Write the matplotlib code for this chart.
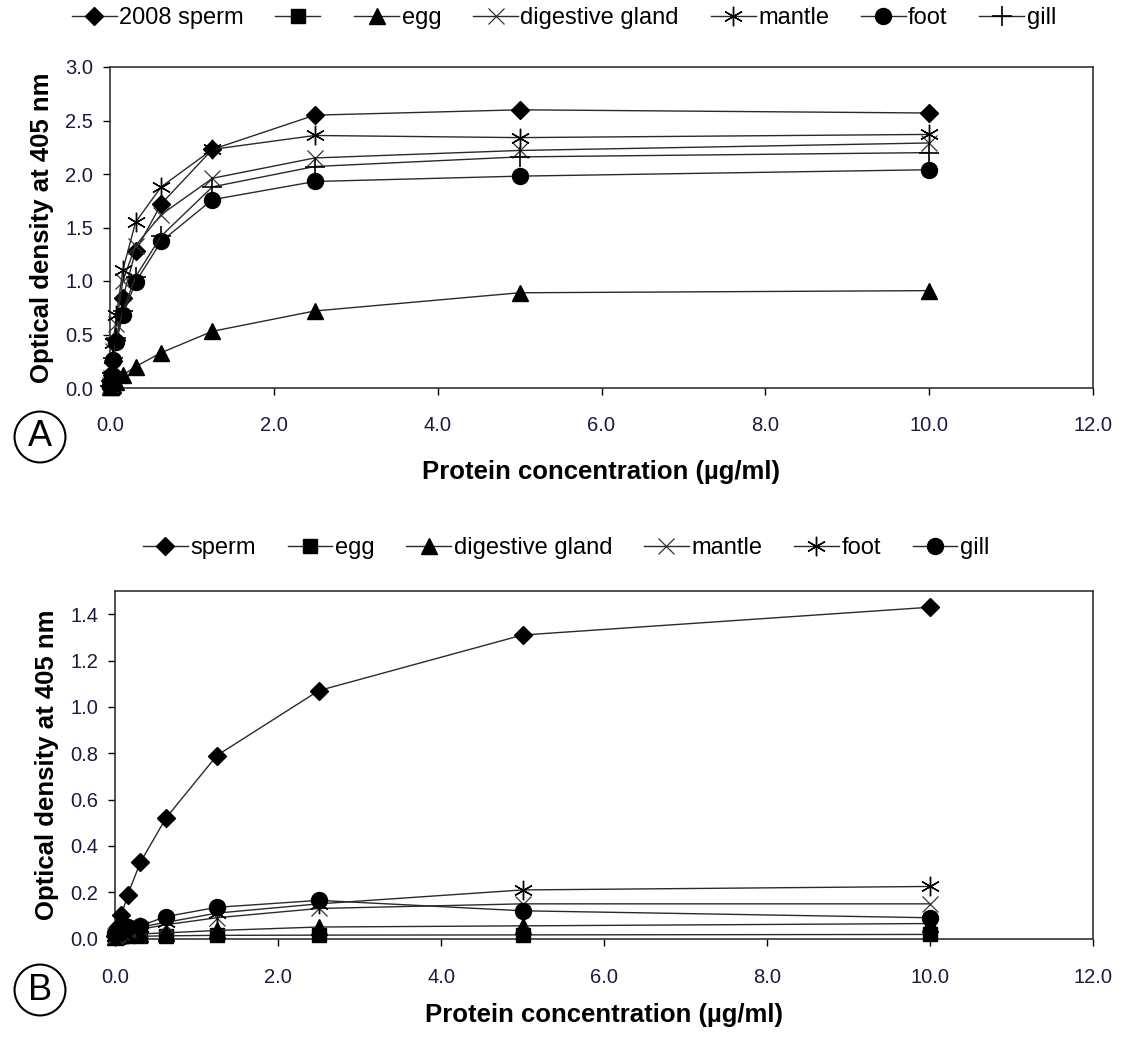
import matplotlib
matplotlib.use("Agg")
import matplotlib.pyplot as plt
from matplotlib.lines import Line2D

plt.rcParams['font.family'] = ['Liberation Sans', 'DejaVu Sans']

# ---------------- data ----------------
conc = [0, 0.0098, 0.0195, 0.039, 0.078, 0.156, 0.3125, 0.625, 1.25, 2.5, 5, 10]

# Panel A
a_labels = ["2008 sperm", "", "egg", "digestive gland", "mantle", "foot", "gill"]
a_sperm = [0.02, 0.06, 0.12, 0.25, 0.45, 0.84, 1.28, 1.72, 2.23, 2.55, 2.60, 2.57]
a_blank = []
a_egg = [0.01, 0.01, 0.02, 0.03, 0.06, 0.12, 0.20, 0.33, 0.53, 0.72, 0.89, 0.91]
a_digestive = [0.03, 0.09, 0.18, 0.35, 0.60, 1.00, 1.33, 1.62, 1.96, 2.15, 2.22, 2.29]
a_mantle = [0.04, 0.10, 0.20, 0.42, 0.68, 1.10, 1.55, 1.88, 2.23, 2.36, 2.34, 2.37]
a_foot = [0.02, 0.06, 0.12, 0.26, 0.43, 0.68, 0.99, 1.37, 1.76, 1.93, 1.98, 2.04]
a_gill = [0.02, 0.07, 0.14, 0.28, 0.47, 0.72, 1.04, 1.42, 1.88, 2.07, 2.16, 2.20]

# Panel B
b_labels = ["sperm", "egg", "digestive gland", "mantle", "foot", "gill"]
b_sperm = [0.01, 0.02, 0.03, 0.05, 0.10, 0.19, 0.33, 0.52, 0.79, 1.07, 1.31, 1.43]
b_egg = [0.005, 0.005, 0.005, 0.01, 0.01, 0.01, 0.01, 0.012, 0.014, 0.015, 0.016, 0.018]
b_digestive = [0.005, 0.01, 0.01, 0.015, 0.015, 0.02, 0.02, 0.025, 0.035, 0.05, 0.055, 0.065]
b_mantle = [0.01, 0.015, 0.02, 0.025, 0.03, 0.035, 0.04, 0.06, 0.09, 0.13, 0.15, 0.15]
b_foot = [0.01, 0.02, 0.025, 0.03, 0.04, 0.045, 0.05, 0.07, 0.11, 0.15, 0.21, 0.225]
b_gill = [0.02, 0.025, 0.03, 0.04, 0.05, 0.05, 0.055, 0.095, 0.135, 0.165, 0.12, 0.09]

x_ticks = [0, 2, 4, 6, 8, 10, 12]
a_yticks = [0.0, 0.5, 1.0, 1.5, 2.0, 2.5, 3.0]
b_yticks = [0.0, 0.2, 0.4, 0.6, 0.8, 1.0, 1.2, 1.4]

# ---------------- style ----------------
W, H = 1121, 1039
fig = plt.figure(figsize=(W / 100, H / 100), dpi=100)

asterisk = (6, 2, 0)
LC = '#2a2a2a'

def style(marker):
    base = dict(color=LC, lw=1.0, markerfacecolor='black', markeredgecolor='black')
    if marker == 'D':
        base.update(marker='D', ms=9)
    elif marker == 's':
        base.update(marker='s', ms=10)
    elif marker == '^':
        base.update(marker='^', ms=11)
    elif marker == 'x':
        base.update(marker='x', ms=11, markeredgewidth=0.9, markeredgecolor='#333333')
    elif marker == '*':
        base.update(marker=asterisk, ms=14, markeredgewidth=1.0)
    elif marker == 'o':
        base.update(marker='o', ms=11.5)
    elif marker == '+':
        base.update(marker='+', ms=14, markeredgewidth=1.2)
    return base

def make_axes(rect, ylim, yticks):
    ax = fig.add_axes(rect)
    ax.set_xlim(0, 12)
    ax.set_ylim(*ylim)
    ax.set_xticks(x_ticks)
    ax.set_xticklabels([f"{v:.1f}" for v in x_ticks])
    ax.set_yticks(yticks)
    ax.set_yticklabels([f"{v:.1f}" for v in yticks])
    ax.tick_params(direction='out', length=5, width=1, labelsize=14.5, colors='black')
    for s in ax.spines.values():
        s.set_linewidth(1.2)
        s.set_color('#333333')
    ax.set_ylabel("Optical density at 405 nm", fontsize=18.5, fontweight='bold')
    ax.set_xlabel("Protein concentration (\u00b5g/ml)", fontsize=18.5, fontweight='bold')
    for lab in ax.get_xticklabels() + ax.get_yticklabels():
        lab.set_color('#1a1a40')
    return ax

def px_rect(left, top, right, bottom):
    return [left / W, 1 - bottom / H, (right - left) / W, (bottom - top) / H]

# ---------------- panel A ----------------
axA = make_axes(px_rect(110, 67, 1093, 388), (0, 3.0), a_yticks)
axA.tick_params(axis='x', pad=15)
axA.tick_params(axis='y', pad=7)
axA.xaxis.labelpad = 18
axA.yaxis.labelpad = 8
a_series = [a_sperm, a_blank, a_egg, a_digestive, a_mantle, a_foot, a_gill]
a_markers = ['D', 's', '^', 'x', '*', 'o', '+']
handlesA = []
for vals, mk in zip(a_series, a_markers):
    st = style(mk)
    xs = conc[:len(vals)]
    axA.plot(xs, vals, clip_on=False, zorder=3, **st)
    handlesA.append(Line2D([], [], **st))

fig.legend(handlesA, a_labels, loc='center', bbox_to_anchor=(0.503, 1 - 18 / H),
           ncol=7, frameon=False, fontsize=17, handlelength=1.9, handletextpad=0.1,
           columnspacing=1.35)

# ---------------- panel B ----------------
axB = make_axes(px_rect(115, 591, 1093, 938.6), (0, 1.5), b_yticks)
axB.tick_params(axis='x', pad=16)
axB.tick_params(axis='y', pad=7)
axB.xaxis.labelpad = 12
axB.yaxis.labelpad = 8
b_series = [b_sperm, b_egg, b_digestive, b_mantle, b_foot, b_gill]
b_markers = ['D', 's', '^', 'x', '*', 'o']
handlesB = []
for vals, mk in zip(b_series, b_markers):
    st = style(mk)
    axB.plot(conc, vals, clip_on=False, zorder=3, **st)
    handlesB.append(Line2D([], [], **st))

fig.legend(handlesB, b_labels, loc='center', bbox_to_anchor=(0.505, 1 - 548 / H),
           ncol=6, frameon=False, fontsize=17, handlelength=1.9, handletextpad=0.1,
           columnspacing=1.35)

# ---------------- panel letters ----------------
for letter, yy in (("A", 437), ("B", 990)):
    fig.text(40 / W, 1 - yy / H, letter, fontsize=26, ha='center', va='center',
             bbox=dict(boxstyle='circle,pad=0.22', fc='white', ec='black', lw=1.5))

fig.savefig("out.png", dpi=100)
